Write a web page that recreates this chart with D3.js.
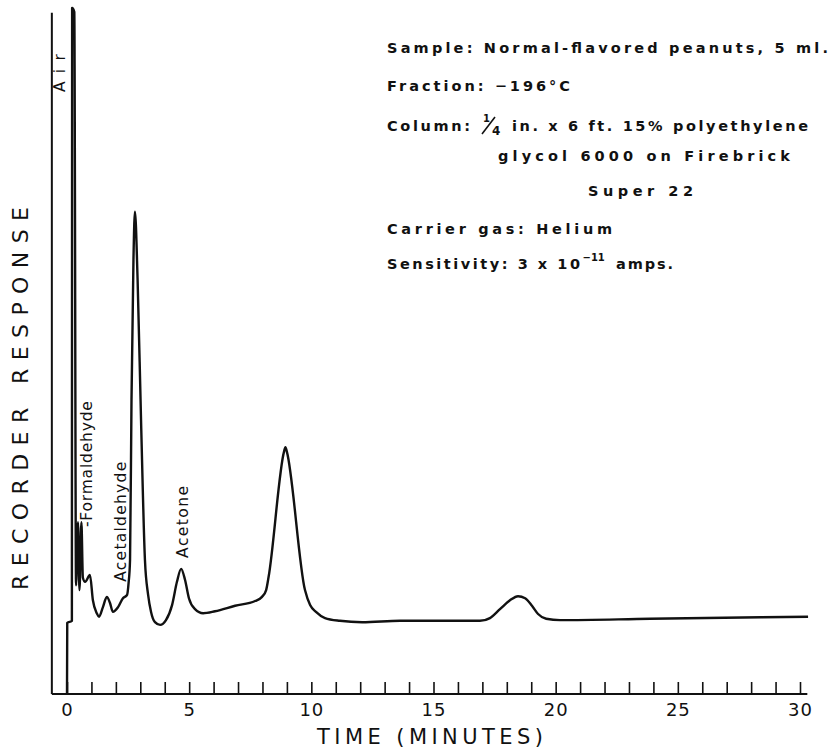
<!DOCTYPE html>
<html>
<head>
<meta charset="utf-8">
<script src="https://cdn.jsdelivr.net/npm/d3@7"></script>
<style>
  body { margin: 0; background: #fff; }
  svg text { font-family: "DejaVu Sans", "Liberation Sans", Arial, sans-serif; fill: #111; }
</style>
</head>
<body>
<div id="chart"></div>
<script>
// Gas chromatogram of normal-flavored peanuts
// time in minutes, response in chart units (0 = base line of the paper, 100 = top)
var traceTime = [0, 0.01, 0.20, 0.21, 0.30, 0.37, 0.45, 0.51, 0.59, 0.65, 0.74, 0.94, 1.06, 1.22, 1.31,
  1.47, 1.63, 1.76, 1.88, 2.09, 2.29, 2.46, 2.52, 2.58, 2.64, 2.72, 2.78, 2.89, 3.03, 3.19, 3.32,
  3.44, 3.60, 3.81, 4.05, 4.30, 4.50, 4.67, 4.83, 4.99, 5.24, 5.57, 6.06, 6.88, 7.70, 7.98, 8.15,
  8.25, 8.88, 8.94, 9.00, 9.74, 9.95, 10.19, 10.56, 11.17, 12.08, 13.63, 15.68, 16.90, 17.31,
  17.72, 18.13, 18.46, 18.75, 19.03, 19.28, 19.61, 20.18, 23.86, 30.33];
var traceResponse = [0, 10.4, 10.7, 100.3, 99.7, 15.9, 25.1, 15.2, 25.1, 17.0, 16.4, 17.4, 13.7, 11.8, 11.3,
  12.7, 14.2, 13.3, 12.0, 12.7, 14.0, 14.5, 16.2, 19.6, 43.0, 63.5, 70.5, 60.5, 40.1, 19.6, 14.5,
  12.0, 10.5, 10.1, 10.8, 13.0, 16.4, 18.3, 16.7, 14.0, 12.4, 11.8, 12.1, 12.9, 13.6, 14.2, 15.2,
  17.1, 35.4, 36.1, 35.4, 15.2, 13.0, 12.0, 11.1, 10.7, 10.5, 10.7, 10.7, 10.7, 11.1,
  12.4, 13.7, 14.3, 14.0, 12.9, 11.7, 11.0, 10.8, 11.0, 11.3];

var tickMinutes = d3.range(0, 31);
var labelMinutes = [0, 5, 10, 15, 20, 25, 30];

// peak labels: name, time of the label's base line, response where the label starts
var peakNames = ["Air", "-Formaldehyde", "Acetaldehyde", "Acetone"];
var peakLabelTime = [-0.08, 1.04, 2.42, 4.95];
var peakLabelLevel = [88.0, 24.4, 16.4, 19.9];
var peakLabelLength = [38, 126, 120, 72];

var svgWidth = 840;
var svgHeight = 750;

var svg = d3.select("#chart")
  .append("svg")
  .attr("width", svgWidth)
  .attr("height", svgHeight);

var x = d3.scaleLinear().domain([0, 30]).range([67, 800]);
var y = d3.scaleLinear().domain([0, 100]).range([694, 10]);

// frame: left edge and bottom line of the chart paper
svg.append("line")
  .attr("x1", x(-0.62)).attr("x2", x(-0.62))
  .attr("y1", y(0)).attr("y2", y(99.6))
  .attr("stroke", "#111").attr("stroke-width", 2);

svg.append("line")
  .attr("x1", x(-0.62)).attr("x2", x(30.3))
  .attr("y1", y(0)).attr("y2", y(0))
  .attr("stroke", "#111").attr("stroke-width", 2);

// minute ticks point up into the chart
var bottomAxis = d3.axisBottom(x)
  .tickValues(tickMinutes)
  .tickSizeInner(-12)
  .tickSizeOuter(0)
  .tickPadding(9)
  .tickFormat(d => labelMinutes.includes(d) ? d : "");

var axisG = svg.append("g")
  .attr("transform", `translate(0, ${y(0)})`)
  .call(bottomAxis);

axisG.select(".domain").remove();
axisG.selectAll(".tick line").attr("stroke", "#111").attr("stroke-width", 1.6);
axisG.selectAll(".tick text")
  .attr("font-size", "18px")
  .attr("font-family", "DejaVu Sans, sans-serif")
  .attr("letter-spacing", "1px")
  .attr("fill", "#111");

// the trace
var points = traceTime.map((t, i) => [t, traceResponse[i]]);
var line = d3.line()
  .x(d => x(d[0]))
  .y(d => y(d[1]))
  .curve(d3.curveMonotoneX);

svg.append("path")
  .datum(points)
  .attr("d", line)
  .attr("fill", "none")
  .attr("stroke", "#111")
  .attr("stroke-width", 2.4)
  .attr("stroke-linejoin", "round");

// peak names, written up the page
peakNames.forEach(function(name, i) {
  var px = x(peakLabelTime[i]);
  var py = y(peakLabelLevel[i]);
  svg.append("text")
    .attr("transform", `translate(${px}, ${py}) rotate(-90)`)
    .attr("font-family", "Liberation Sans, Arial, sans-serif")
    .attr("font-size", "15.5px")
    .attr("textLength", peakLabelLength[i])
    .attr("lengthAdjust", "spacing")
    .text(name);
});

// axis titles
svg.append("text")
  .attr("transform", "translate(28, 590) rotate(-90)")
  .attr("font-size", "22px")
  .attr("textLength", 383)
  .attr("lengthAdjust", "spacing")
  .text("RECORDER  RESPONSE");

svg.append("text")
  .attr("x", 317)
  .attr("y", 744)
  .attr("font-size", "21px")
  .attr("textLength", 226)
  .attr("lengthAdjust", "spacing")
  .text("TIME (MINUTES)");

// run conditions
var note = svg.append("g")
  .attr("font-size", "14.5px")
  .attr("font-weight", "bold");

note.append("text").attr("x", 387).attr("y", 53)
  .attr("textLength", 441).attr("lengthAdjust", "spacing")
  .text("Sample: Normal-flavored  peanuts, 5 ml.");

note.append("text").attr("x", 387).attr("y", 91)
  .attr("textLength", 183).attr("lengthAdjust", "spacing")
  .text("Fraction: \u2212196\u00B0C");

var col = note.append("text").attr("x", 387).attr("y", 131);
col.append("tspan").attr("textLength", 83).attr("lengthAdjust", "spacing").text("Column:");
col.append("tspan").attr("x", 483).attr("dy", -9).attr("font-size", "10px").text("1");
col.append("tspan").attr("x", 492).attr("dy", 13).attr("font-size", "12px").text("4");
col.append("tspan").attr("x", 512).attr("dy", -4)
  .attr("textLength", 296).attr("lengthAdjust", "spacing")
  .text("in. x 6 ft.  15%  polyethylene");

// fraction bar of the 1/4
note.append("line")
  .attr("x1", 482).attr("y1", 134).attr("x2", 495).attr("y2", 117)
  .attr("stroke", "#111").attr("stroke-width", 1.6);

note.append("text").attr("x", 498).attr("y", 161)
  .attr("textLength", 292).attr("lengthAdjust", "spacing")
  .text("glycol  6000  on  Firebrick");

note.append("text").attr("x", 588).attr("y", 196)
  .attr("textLength", 105).attr("lengthAdjust", "spacing")
  .text("Super  22");

note.append("text").attr("x", 387).attr("y", 234)
  .attr("textLength", 225).attr("lengthAdjust", "spacing")
  .text("Carrier  gas:  Helium");

var sens = note.append("text").attr("x", 387).attr("y", 269);
sens.append("tspan").attr("textLength", 193).attr("lengthAdjust", "spacing").text("Sensitivity: 3 x 10");
sens.append("tspan").attr("dy", -8).attr("font-size", "10px").text("\u221211");
sens.append("tspan").attr("x", 616).attr("dy", 8)
  .attr("textLength", 57).attr("lengthAdjust", "spacing")
  .text("amps.");
</script>
</body>
</html>
